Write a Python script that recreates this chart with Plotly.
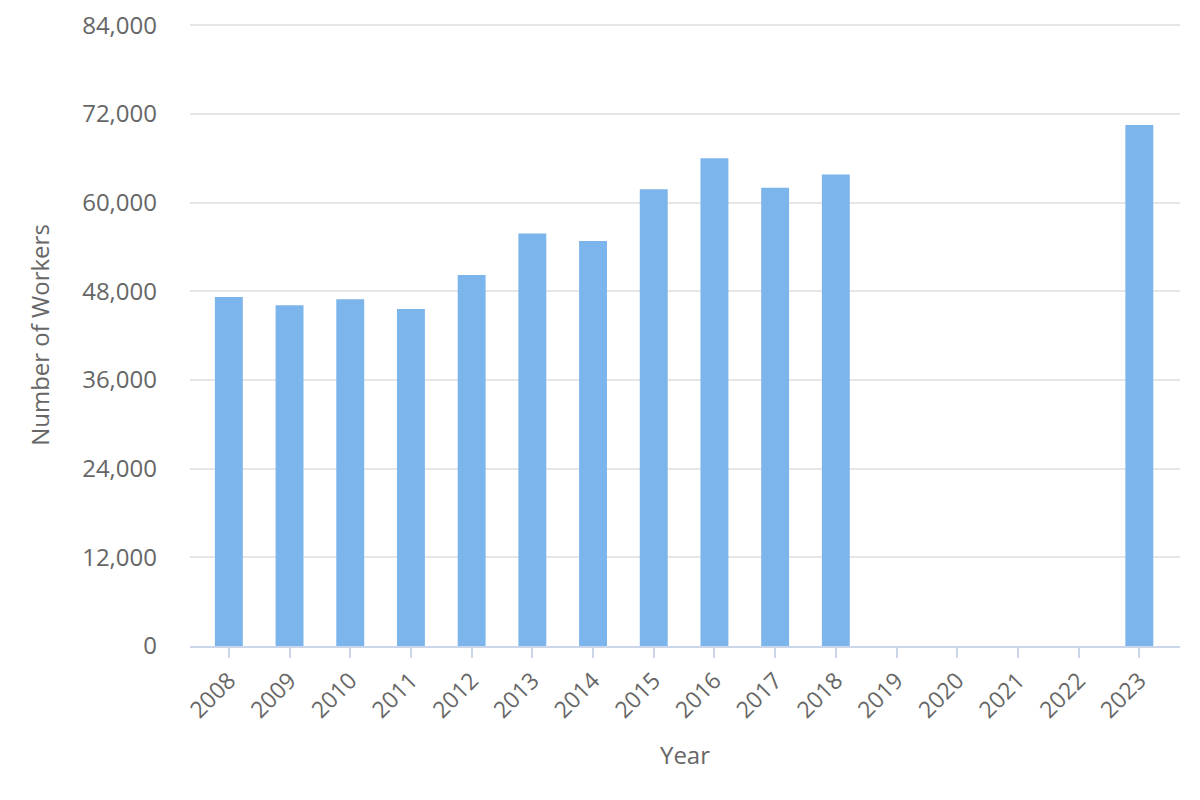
import plotly.graph_objects as go

years = ["2008", "2009", "2010", "2011", "2012", "2013", "2014", "2015",
         "2016", "2017", "2018", "2019", "2020", "2021", "2022", "2023"]
workers = [47200, 46100, 46900, 45600, 50200, 55800, 54800, 61800,
           66000, 62000, 63800, None, None, None, None, 70500]
y_ticks = [0, 12000, 24000, 36000, 48000, 60000, 72000, 84000]

font_family = "Open Sans, sans-serif"
text_color = "#666666"

fig = go.Figure(go.Bar(
    x=list(range(len(years))),
    y=workers,
    width=0.46,
    marker=dict(color="#7cb5ec", line=dict(width=0)),
    hoverinfo="skip",
))

fig.update_layout(
    width=1200, height=800,
    margin=dict(l=182, r=28, t=16, b=162),
    paper_bgcolor="white", plot_bgcolor="white",
    showlegend=False,
    font=dict(family=font_family, color=text_color),
    xaxis=dict(
        tickmode="array",
        tickvals=list(range(len(years))),
        ticktext=years,
        range=[-0.64, 15.67],
        tickangle=-45,
        tickfont=dict(size=23, color=text_color),
        showgrid=False,
        showline=True, linecolor="#ccd6eb", linewidth=2,
        ticks="outside", ticklen=10, tickcolor="#ccd6eb", tickwidth=2,
        title=dict(text="Year", font=dict(size=24, color=text_color), standoff=24),
        zeroline=False,
        automargin=False,
    ),
    yaxis=dict(
        range=[0, 84150],
        tickmode="array",
        tickvals=y_ticks,
        ticktext=[f"{v:,}" for v in y_ticks],
        tickfont=dict(size=24, color=text_color),
        ticklabeloverflow="allow",
        showgrid=True, gridcolor="#e6e6e6", gridwidth=2,
        zeroline=False,
        showline=False,
        ticks="",
        ticklabelstandoff=32,
        title=dict(text="Number of Workers", font=dict(size=24, color=text_color), standoff=25),
        automargin=False,
    ),
)

fig.write_html("out.html")
